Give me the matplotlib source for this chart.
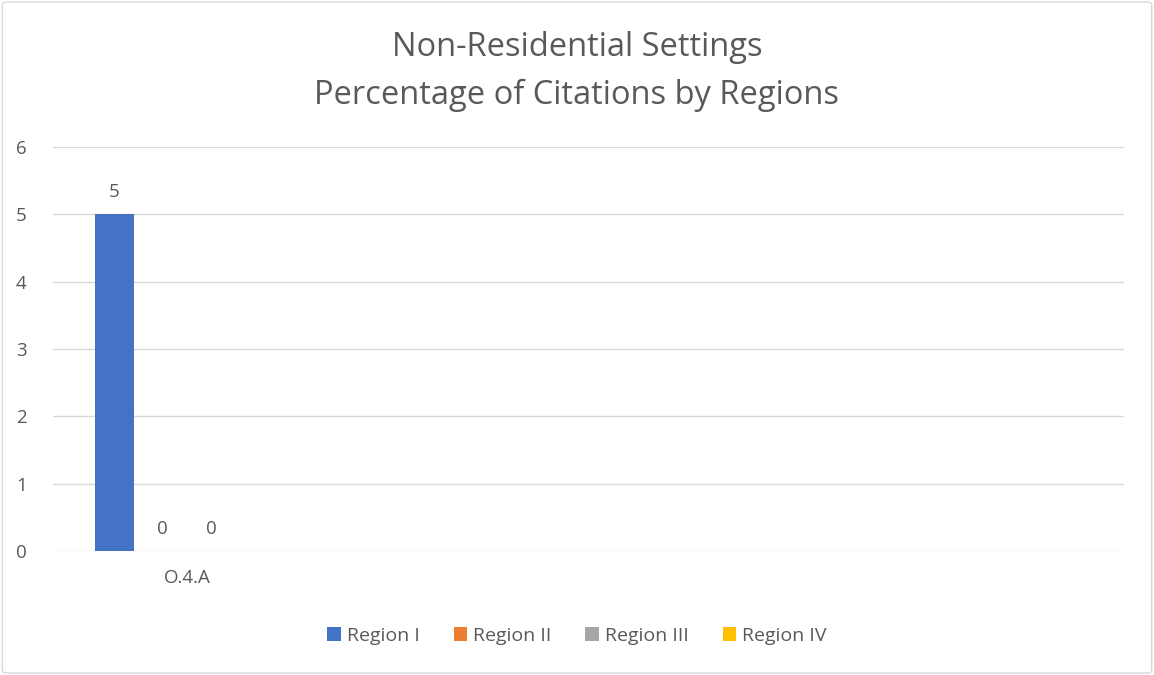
import numpy as np
import matplotlib.pyplot as plt
from matplotlib.patches import FancyBboxPatch

plt.rcParams['font.family'] = ['Open Sans', 'DejaVu Sans']

# data
categories = ['O.4.A', '', '', '']
series = ['Region I', 'Region II', 'Region III', 'Region IV']
values = {
    'Region I':   [5, None, None, None],
    'Region II':  [0, None, None, None],
    'Region III': [0, None, None, None],
    'Region IV':  [None, None, None, None],
}
colors = ['#4472C4', '#ED7D31', '#A5A5A5', '#FFC000']
txt = '#595959'

fig = plt.figure(figsize=(11.54, 6.75), dpi=100)
ax = fig.add_axes([0.0459, 0.1837, 0.9281, 0.5985])

x = np.arange(len(categories))
step = 0.18
width = 0.146
for i, (name, c) in enumerate(zip(series, colors)):
    vals = [np.nan if v is None else v for v in values[name]]
    pos = x + (i - 1.5) * step
    ax.bar(pos, vals, width, color=c, label=name, zorder=3)
    for p, v in zip(pos, values[name]):
        if v is not None:
            ax.text(p, v + 0.2, f'{v}', ha='center', va='bottom',
                    fontsize=13.5, color=txt)

ax.set_xlim(-0.5, len(categories) - 0.5)
ax.set_ylim(0, 6)
ax.set_yticks(range(0, 7))
ax.set_xticks(x)
ax.set_xticklabels(categories)
ax.grid(axis='y', color='#D9D9D9', linewidth=1, zorder=0)
for s in ax.spines.values():
    s.set_visible(False)
ax.tick_params(length=0, colors=txt, labelsize=13.5)
ax.tick_params(axis='y', pad=19)
ax.tick_params(axis='x', pad=13)

fig.text(0.5, 0.929, 'Non-Residential Settings', ha='center', va='center',
         fontsize=23.5, color=txt)
fig.text(0.5, 0.859, 'Percentage of Citations by Regions', ha='center',
         va='center', fontsize=23.5, color=txt)

ax.legend(loc='center', bbox_to_anchor=(0.5, 0.058), bbox_transform=fig.transFigure,
          ncol=4, frameon=False, handlelength=0.7, handleheight=0.7,
          handletextpad=0.3, columnspacing=1.75, labelcolor=txt,
          prop={'size': 14})

fig.patches.append(FancyBboxPatch((0.002, 0.003), 0.996, 0.994,
                                  boxstyle='round,pad=0,rounding_size=0.004',
                                  transform=fig.transFigure, fill=False,
                                  edgecolor='#D9D9D9', linewidth=1))

fig.savefig('out.png', dpi=100)
